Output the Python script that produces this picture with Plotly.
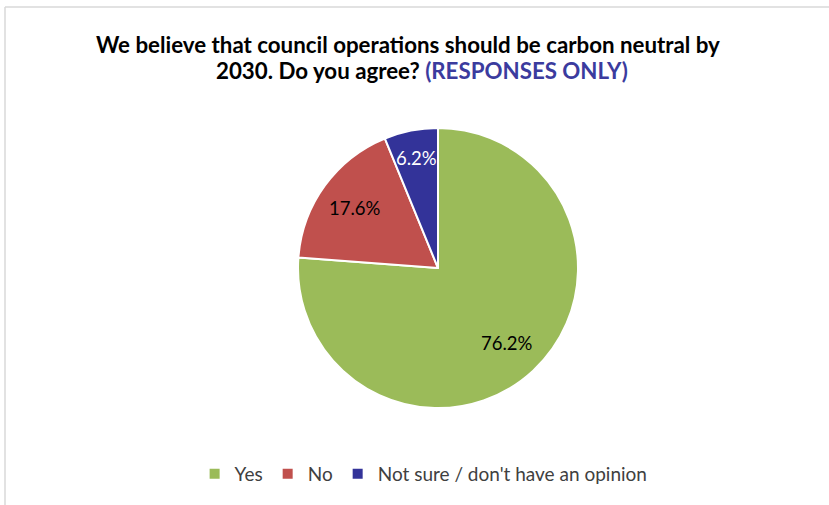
import math
import plotly.graph_objects as go

# Survey responses
labels = ["Yes", "No", "Not sure / don't have an opinion"]
shares = [76.2, 17.6, 6.2]
colors = ["#9BBB59", "#C0504D", "#333399"]
text_colors = ["#000000", "#000000", "#FFFFFF"]

W, H = 829, 505
cx, cy, r = 438, 268, 140  # pie centre and radius in pixels

fig = go.Figure(go.Pie(
    labels=labels,
    values=shares,
    sort=False,
    direction="clockwise",
    rotation=0,
    marker=dict(colors=colors, line=dict(color="white", width=2)),
    textinfo="none",
    hoverinfo="label+percent",
    domain=dict(x=[(cx - r) / W, (cx + r) / W], y=[(H - cy - r) / H, (H - cy + r) / H]),
))

# Data labels placed along each slice's mid-angle
annotations = []
total = sum(shares)
start = 0.0
for v, tc in zip(shares, text_colors):
    mid = (start + v / 2) / total * 2 * math.pi
    start += v
    frac = 0.73 if v > 10 else 0.80
    px = cx + frac * r * math.sin(mid)
    py = cy - frac * r * math.cos(mid)
    annotations.append(dict(
        text=f"{v:.1f}%", x=px / W, y=(H - py) / H, xref="paper", yref="paper",
        showarrow=False, xanchor="center", yanchor="middle",
        font=dict(family="Lato", size=18.5, color=tc),
    ))

annotations += [
    dict(text="<b>We believe that council operations should be carbon neutral by</b>",
         x=408 / W, y=(H - 45) / H, xref="paper", yref="paper", showarrow=False,
         font=dict(size=22.3, color="#000000"), xanchor="center", yanchor="middle"),
    dict(text="<b>2030. Do you agree? <span style='color:#3B3B9E'>(RESPONSES ONLY)</span></b>",
         x=422 / W, y=(H - 70) / H, xref="paper", yref="paper", showarrow=False,
         font=dict(size=22.3, color="#000000"), xanchor="center", yanchor="middle"),
]

fig.update_layout(
    width=W, height=H,
    margin=dict(l=0, r=0, t=0, b=0),
    paper_bgcolor="white",
    font=dict(family="Lato", color="#404040"),
    showlegend=True,
    legend=dict(
        orientation="h", x=0.511, xanchor="center", y=(H - 474) / H, yanchor="middle",
        font=dict(size=19, color="#404040"),
        itemwidth=30,
    ),
    annotations=annotations,
    shapes=[
        dict(type="line", xref="paper", yref="paper", x0=5 / W, x1=1.0, y0=(H - 7) / H, y1=(H - 7) / H,
             line=dict(color="#D9D9D9", width=1.5)),
        dict(type="line", xref="paper", yref="paper", x0=5 / W, x1=5 / W, y0=0, y1=(H - 7) / H,
             line=dict(color="#D9D9D9", width=1.5)),
    ],
)

fig.write_html("out.html")
